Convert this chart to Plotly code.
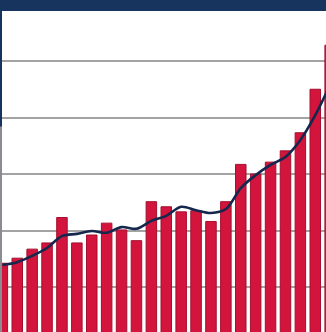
import plotly.graph_objects as go

# Data (arbitrary units, gridlines every 100)
periods = list(range(23))
bar_values = [142, 151, 167, 178, 223, 178, 192, 213, 201, 182, 251, 242,
              233, 235, 216, 251, 317, 300, 321, 341, 373, 450, 528]
trend_values = [139, 144, 155, 169, 190, 194, 199, 196, 206, 203, 217, 226,
                242, 236, 231, 238, 275, 298, 316, 330, 360, 404, 458]
grid_ticks = [100, 200, 300, 400, 500]

NAVY = "#17345f"
RED = "#d3143d"

fig = go.Figure()
fig.add_trace(go.Bar(
    x=periods, y=bar_values,
    marker=dict(color=RED, line=dict(color="#a50f2d", width=1)),
    showlegend=False,
))
fig.add_trace(go.Scatter(
    x=periods, y=trend_values, mode="lines",
    line=dict(color="#15274d", width=2.6, shape="spline", smoothing=0.9),
    showlegend=False,
))

fig.update_layout(
    width=326, height=332,
    margin=dict(l=2, r=0, t=11, b=0, pad=0),
    paper_bgcolor=NAVY,
    plot_bgcolor="white",
    bargap=0.295,
    xaxis=dict(range=[-0.0235, 21.72], showticklabels=False, showgrid=False,
               zeroline=False, showline=False, ticks=""),
    yaxis=dict(range=[20.35, 588.5], tickvals=grid_ticks, showticklabels=False,
               showgrid=True, gridcolor="#a3a3a3", gridwidth=2,
               zeroline=False, showline=False, ticks=""),
    shapes=[dict(type="rect", xref="paper", yref="paper", layer="above",
                 x0=-2/324, x1=0, y0=0, y1=0.64,
                 fillcolor="#8a8c92", line=dict(width=0))],
)

fig.write_html(
    "out.html",
    config={"displayModeBar": False},
    post_script="document.body.style.margin='0';document.body.style.overflow='hidden';",
)
